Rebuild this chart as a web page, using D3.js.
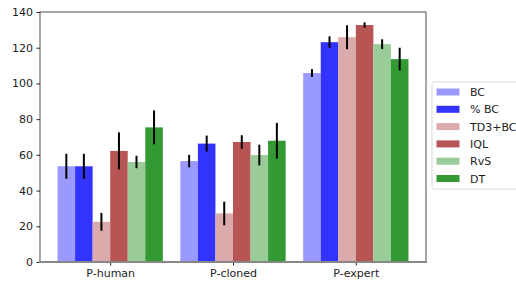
<!DOCTYPE html>
<html>
<head>
<meta charset="utf-8">
<script src="https://cdn.jsdelivr.net/npm/d3@7"></script>
<style>
  body { margin: 0; background: #fff; }
  text { font-family: "DejaVu Sans", sans-serif; }
</style>
</head>
<body>
<script>
// data
const datasets = ["P-human", "P-cloned", "P-expert"];
const methods = ["BC", "% BC", "TD3+BC", "IQL", "RvS", "DT"];
const colors = ["#9999ff", "#3333ff", "#dbaaaa", "#b75454", "#99cc99", "#339933"];
const means = [
    [53.6, 53.6, 22.5, 62.2, 56.0, 75.4],
    [56.5, 66.3, 27.2, 67.2, 59.9, 67.9],
    [105.8, 123.1, 125.9, 132.7, 122.0, 113.6]
];
const errs = [
    [7.0, 7.0, 5.0, 10.4, 3.5, 9.5],
    [3.5, 4.5, 6.6, 3.8, 5.8, 10.0],
    [2.2, 3.3, 6.7, 1.5, 2.7, 6.4]
];
const yTicks = [0, 20, 40, 60, 80, 100, 120, 140];

(function () {
    const W = 516, H = 283;
    const plot = { left: 40, right: 426, top: 12, bottom: 262 };
    const bw = 1 / 7;
    const fs = 11;

    const svg = d3.select("body").append("svg")
        .attr("width", W).attr("height", H);

    // x in "group units", matplotlib-ish 5% margins
    const span = 2 + 6 * bw;
    const x = d3.scaleLinear()
        .domain([-3 * bw - 0.05 * span, 2 + 3 * bw + 0.05 * span])
        .range([plot.left, plot.right]);
    const y = d3.scaleLinear().domain([0, 140]).range([plot.bottom, plot.top]);

    // rows -> flat bars
    const bars = [];
    datasets.forEach((ds, gi) => {
        methods.forEach((m, mi) => {
            bars.push({ gi, mi, v: means[gi][mi], e: errs[gi][mi] });
        });
    });

    svg.append("g").selectAll("rect")
        .data(bars)
        .join("rect")
        .attr("x", d => x(d.gi + (d.mi - 3) * bw))
        .attr("width", x(bw) - x(0))
        .attr("y", d => y(d.v))
        .attr("height", d => y(0) - y(d.v))
        .attr("fill", d => colors[d.mi]);

    // error bars
    svg.append("g").selectAll("line")
        .data(bars)
        .join("line")
        .attr("x1", d => x(d.gi + (d.mi - 2.5) * bw))
        .attr("x2", d => x(d.gi + (d.mi - 2.5) * bw))
        .attr("y1", d => y(d.v + d.e))
        .attr("y2", d => y(d.v - d.e))
        .attr("stroke", "#000")
        .attr("stroke-width", 2);

    // y axis
    const yAxis = svg.append("g")
        .attr("transform", `translate(${plot.left},0)`)
        .call(d3.axisLeft(y).tickValues(yTicks).tickSize(3.5).tickPadding(3.5));
    yAxis.select(".domain").remove();
    yAxis.selectAll("text").attr("font-size", fs).attr("fill", "#222");
    yAxis.selectAll("line").attr("stroke", "#222");

    // x axis
    const xAxis = svg.append("g")
        .attr("transform", `translate(0,${plot.bottom})`)
        .call(d3.axisBottom(x).tickValues([0, 1, 2]).tickFormat(i => datasets[i]).tickSize(3.5).tickPadding(3.5));
    xAxis.select(".domain").remove();
    xAxis.selectAll("text").attr("font-size", fs).attr("fill", "#222");
    xAxis.selectAll("line").attr("stroke", "#222");

    // spines
    svg.append("rect")
        .attr("x", plot.left).attr("y", plot.top)
        .attr("width", plot.right - plot.left).attr("height", plot.bottom - plot.top)
        .attr("fill", "none").attr("stroke", "#222").attr("stroke-width", 0.8);
    svg.append("line")
        .attr("x1", plot.left - 1).attr("x2", plot.right + 1)
        .attr("y1", plot.bottom).attr("y2", plot.bottom)
        .attr("stroke", "#888").attr("stroke-width", 2);

    // legend
    const lg = svg.append("g").attr("transform", "translate(432,82)");
    lg.append("rect")
        .attr("width", 100).attr("height", 107).attr("rx", 2)
        .attr("fill", "#fff").attr("fill-opacity", 0.8)
        .attr("stroke", "#d0d0d0").attr("stroke-width", 0.8);
    methods.forEach((m, i) => {
        const row = lg.append("g").attr("transform", `translate(0,${10 + i * 17.3})`);
        row.append("rect")
            .attr("x", 4.5).attr("y", -3.5).attr("width", 23).attr("height", 7)
            .attr("fill", colors[i]);
        row.append("text")
            .attr("x", 38).attr("y", 4)
            .attr("font-size", fs).attr("fill", "#222")
            .text(m);
    });
})();
</script>
</body>
</html>
